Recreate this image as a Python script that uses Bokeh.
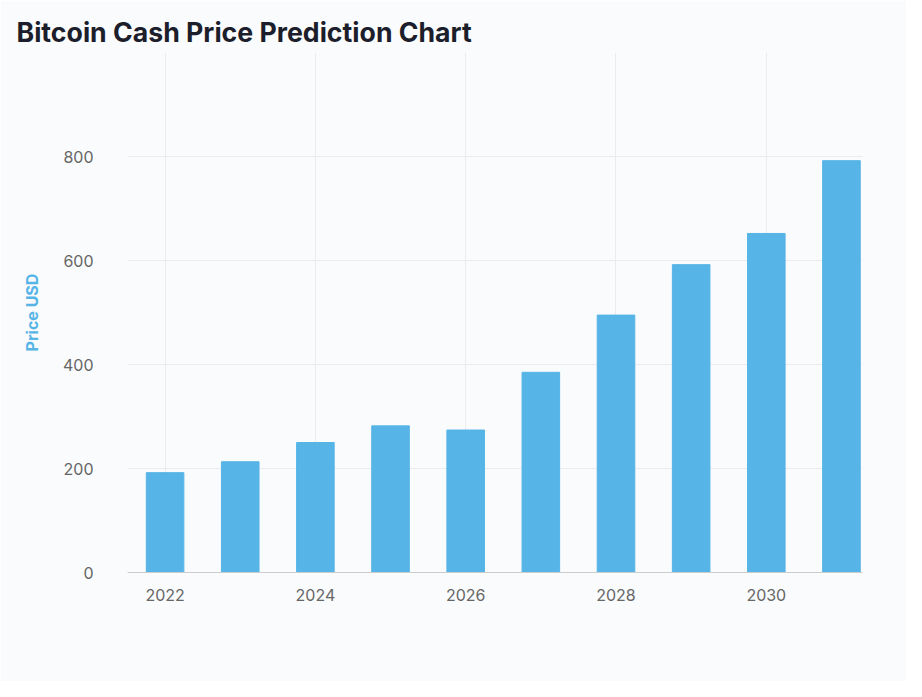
from bokeh.plotting import figure
from bokeh.models import ColumnDataSource, Legend, LegendItem, FixedTicker, Range1d, Title
from bokeh.embed import file_html
from bokeh.resources import INLINE

years = [2022, 2023, 2024, 2025, 2026, 2027, 2028, 2029, 2030, 2031]
prices = [192, 213, 250, 282, 274, 385, 495, 592, 652, 792]
series_name = "Bitcoin Cash (BCH) Price Prediction - Forecast from year 2022 to 2031"

src = ColumnDataSource(dict(x=years, top=prices))
bg = "#fafbfc"
p = figure(width=906, height=681, output_backend="svg", toolbar_location=None,
           x_range=Range1d(2021.5, 2031.28), y_range=Range1d(0, 1000),
           background_fill_color=bg, border_fill_color=bg,
           min_border_left=127, min_border_right=44, min_border_top=52, min_border_bottom=109)
p.outline_line_color = None
t = Title(text="Bitcoin Cash Price Prediction Chart", text_font="Inter", text_font_size="20pt",
          text_font_style="bold", text_color="#1c1e2b", align="left", offset=-111)
p.add_layout(t, "above")

r = p.vbar(x="x", top="top", width=0.5, source=src, color="#56b4e7")
dummy = p.scatter(x=[], y=[], marker="circle", size=17, color="#56b4e7")

p.xaxis.ticker = FixedTicker(ticks=[2022, 2024, 2026, 2028, 2030])
p.yaxis.ticker = FixedTicker(ticks=[0, 200, 400, 600, 800, 1000])
p.yaxis.major_label_overrides = {1000: ""}
for ax in (p.xaxis, p.yaxis):
    ax.major_tick_line_color = None
    ax.minor_tick_line_color = None
    ax.major_label_text_font = "Inter"
    ax.major_label_text_font_size = "12pt"
    ax.major_label_text_color = "#666666"
p.yaxis.axis_line_color = None
p.xaxis.axis_line_color = "#cccccc"
p.yaxis.major_label_standoff = 28
p.xaxis.major_label_standoff = 10
p.yaxis.axis_label = "Price USD"
p.yaxis.axis_label_text_font = "Inter"
p.yaxis.axis_label_text_font_style = "bold"
p.yaxis.axis_label_text_font_size = "12pt"
p.yaxis.axis_label_text_color = "#56b4e7"
p.yaxis.axis_label_standoff = 18
p.grid.grid_line_color = "#ececf0"

legend = Legend(items=[LegendItem(label=series_name, renderers=[dummy])], orientation="horizontal",
                location=(-6, -86), background_fill_alpha=0, border_line_color=None,
                label_text_font="Inter", label_text_font_style="bold", label_text_font_size="12pt",
                label_text_color="#333333", glyph_width=18, glyph_height=18, padding=0, margin=0)
p.add_layout(legend, "center")

open("out.html", "w").write(file_html(p, INLINE))
